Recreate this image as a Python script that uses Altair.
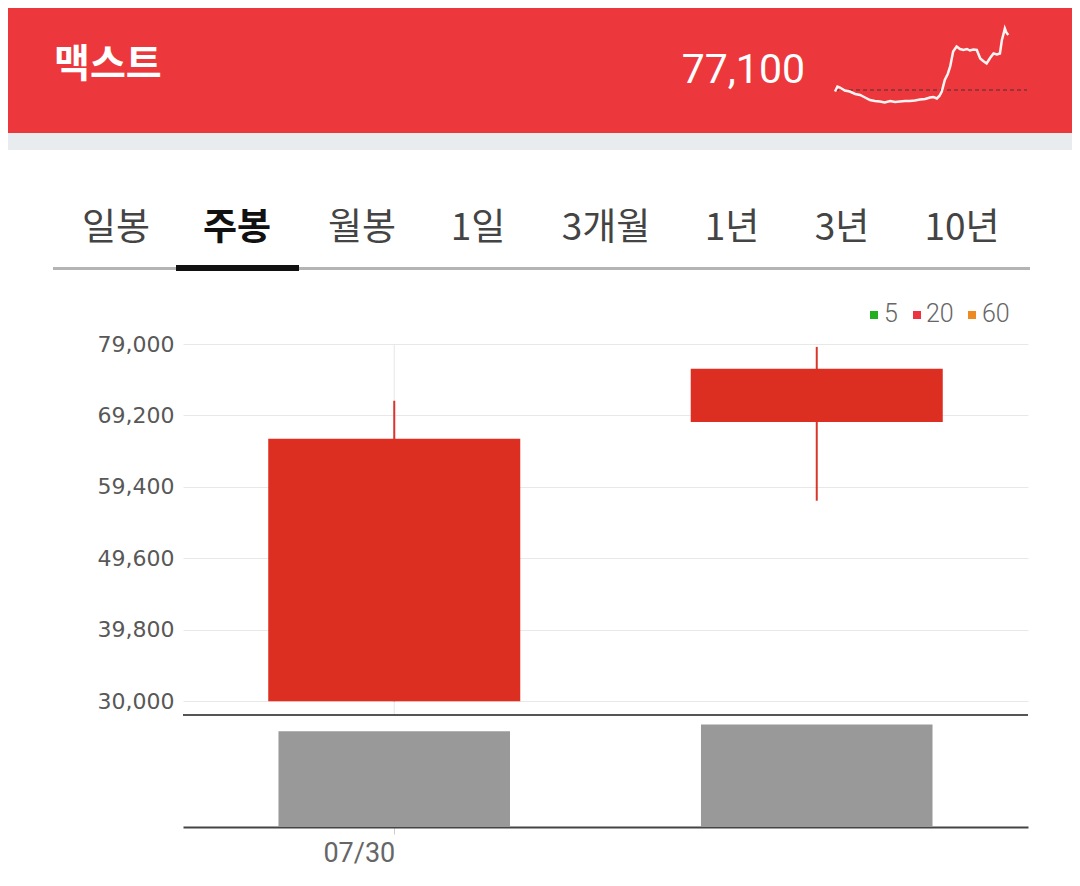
import altair as alt
import pandas as pd

# ---------------- data ----------------
dates = ["07/30", "08/06"]
opens = [30000, 68300]
highs = [71200, 78600]
lows = [30000, 57500]
closes = [66000, 75600]
volumes = [8550000, 9150000]

y_ticks = [30000, 39800, 49600, 59400, 69200, 79000]
x_labels = ["07/30"]

stock_name = "맥스트"
last_price = "77,100"
tabs = ["일봉", "주봉", "월봉", "1일", "3개월", "1년", "3년", "10년"]
selected_tab = "주봉"
ma_labels = ["5", "20", "60"]
ma_colors = ["#22b022", "#ee3340", "#ee8a22"]

# intraday sparkline (minutes from open, price)
spark_t = [0, 5, 10, 20, 30, 41, 51, 61, 71, 81, 91, 101, 112, 122, 132, 142, 152,
           162, 173, 183, 193, 200, 207, 212, 217, 223, 229, 234, 240, 247, 254,
           261, 268, 274, 281, 288, 295, 301, 308, 315, 322, 329, 335, 339, 342,
           345, 348, 352]
spark_v = [65800, 66800, 66600, 66000, 65800, 65300, 65100, 64600, 64100, 63900,
           63800, 63600, 63900, 63700, 63800, 63900, 63900, 64000, 64200, 64300,
           64600, 64700, 64400, 64900, 65800, 68100, 69300, 70800, 73800, 74800,
           74300, 74100, 74300, 74000, 74200, 74100, 72400, 71900, 71400, 72500,
           73400, 73200, 73400, 76100, 77200, 78400, 77600, 77100]
prev_close = 66100

# ---------------- layout helpers (page px -> plot px) ----------------
OX, OY = 183, 344
W, H_PRICE, H_VOL = 845, 371, 112


def px(x):
    return x - OX


def py(y):
    return y - OY


one = pd.DataFrame({"k": [0]})
KR = "Noto Sans CJK KR"

candles = pd.DataFrame({"date": dates, "open": opens, "high": highs,
                        "low": lows, "close": closes, "volume": volumes})
spark = pd.DataFrame({"t": spark_t, "v": spark_v})

x_axis = alt.Axis(values=x_labels, grid=False, domainColor="#444444", domainWidth=2,
                  tickColor="#cccccc", tickSize=7, tickWidth=1, bandPosition=0.5,
                  labelAngle=0, labelAlign="right", labelBaseline="top",
                  labelFont="Roboto", labelFontSize=27, labelColor="#666666",
                  labelPadding=6, labelOffset=1)
x_enc = alt.X("date:N", sort=dates, title=None, axis=x_axis,
              scale=alt.Scale(paddingInner=0, paddingOuter=0))

price_scale = alt.Scale(domain=[28100, 79000], range=[H_PRICE, 0], nice=False, zero=False)
vol_scale = alt.Scale(domain=[0, 10000000], range=[H_PRICE + H_VOL, H_PRICE], nice=False)

y_axis = alt.Axis(values=y_ticks, format=",d", grid=True, gridColor="#e8e8e8", gridWidth=1,
                  domain=False, ticks=False, labelPadding=9, labelFont="DejaVu Sans",
                  labelFontSize=22, labelColor="#585858")

vgrid = alt.Chart(candles).transform_filter(alt.datum.date == "07/30").mark_rule(
    color="#e6e6e6", strokeWidth=1).encode(
    x=x_enc,
    y=alt.Y(datum=79000, scale=price_scale, title=None),
    y2=alt.Y2(datum=28100))

wick = alt.Chart(candles).mark_rule(color="#d8362b", strokeWidth=2).encode(
    x=x_enc,
    y=alt.Y("low:Q", scale=price_scale, axis=y_axis, title=None),
    y2="high:Q")

body = alt.Chart(candles).mark_bar(color="#dd2e22", width=alt.RelativeBandSize(0.5965)).encode(
    x=x_enc,
    y=alt.Y("open:Q", scale=price_scale, title=None),
    y2="close:Q")

price_group = alt.layer(vgrid, wick, body)

vol_bars = alt.Chart(candles).mark_bar(color="#999999", width=alt.RelativeBandSize(0.548)).encode(
    x=x_enc,
    y=alt.Y("volume:Q", scale=vol_scale, axis=None, title=None))

separator = alt.Chart(one).mark_rule(color="#555555", strokeWidth=2).encode(
    y=alt.Y(datum=10000000, scale=vol_scale, axis=None))

vol_group = alt.layer(vol_bars, separator)

candle_group = alt.layer(price_group, vol_group).resolve_scale(y="independent")

# ---------------- sparkline ----------------
spark_x = alt.Scale(domain=[0, 390], range=[px(835), px(1027)], nice=False, zero=False)
spark_y = alt.Scale(domain=[60000, 80000], range=[py(120.5), py(20.5)], nice=False, zero=False)

spark_base = alt.Chart(one).mark_rule(color="#4a3030", strokeDash=[4, 3], strokeWidth=1.2).encode(
    x=alt.X(datum=0, scale=spark_x, axis=None),
    x2=alt.X2(datum=390),
    y=alt.Y(datum=prev_close, scale=spark_y, axis=None))

spark_line = alt.Chart(spark).mark_line(color="#fff4f4", strokeWidth=2.5).encode(
    x=alt.X("t:Q", scale=spark_x, axis=None),
    y=alt.Y("v:Q", scale=spark_y, axis=None))

spark_group = alt.layer(spark_base, spark_line)


# ---------------- decorations ----------------
def rect(x1, x2, y1, y2, color):
    return alt.Chart(one).mark_rect(color=color).encode(
        x=alt.value(px(x1)), x2=alt.value(px(x2)),
        y=alt.value(py(y1)), y2=alt.value(py(y2)))


def text(label, x, y, **style):
    return alt.Chart(one).mark_text(**style).encode(
        x=alt.value(px(x)), y=alt.value(py(y)), text=alt.value(label))


deco = [
    rect(8, 1072, 8, 133, "#ec383c"),
    rect(8, 1072, 133, 150, "#e9ecef"),
    text(stock_name, 54, 65, font=KR, fontSize=39, fontWeight="bold", color="white",
         align="left", baseline="middle"),
    text(last_price, 805, 83, font="Roboto", fontSize=41, color="white",
         align="right", baseline="alphabetic"),
    rect(53, 1030, 267, 270, "#b4b4b4"),
    rect(176, 299, 265, 271, "#111111"),
]

tab_x = [116, 237, 362, 478, 606, 732, 842, 962]
for lab, tx in zip(tabs, tab_x):
    sel = lab == selected_tab
    deco.append(text(lab, tx, 229, font=KR, fontSize=37,
                     fontWeight="bold" if sel else "normal",
                     color="#111111" if sel else "#444444",
                     align="center", baseline="middle"))

sq_x = [870, 913, 968]
lab_x = [884, 926, 982]
for lab, col, sx, lx in zip(ma_labels, ma_colors, sq_x, lab_x):
    deco.append(rect(sx, sx + 8, 311, 319, col))
    deco.append(text(lab, lx, 314, font="Roboto", fontSize=25, fontWeight=300,
                     color="#666666", align="left", baseline="middle"))

chart = alt.layer(*deco[:2], candle_group, spark_group, *deco[2:]).resolve_scale(
    x="independent", y="independent"
).properties(
    width=W, height=H_PRICE + H_VOL,
    padding={"left": 0, "top": 0, "right": 0, "bottom": 10},
    background="white"
).configure_view(stroke=None)

chart.save("out.html", embed_options={"renderer": "svg", "actions": False})
